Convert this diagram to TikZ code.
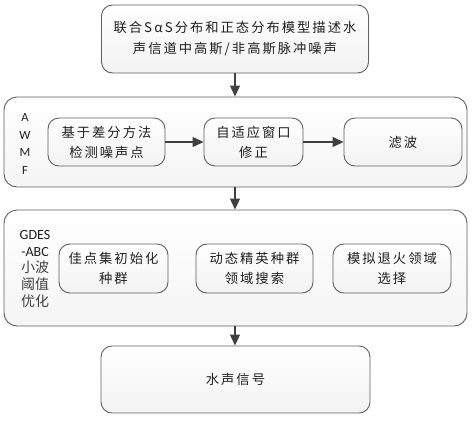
\documentclass[tikz,border=0pt]{standalone}
\usepackage{fontspec}
\setmainfont{Carlito}
\newfontfamily\cjk[LetterSpace=15]{Noto Sans CJK SC}
\newfontfamily\cjkplain{Noto Sans CJK SC}
\usetikzlibrary{arrows.meta}
\definecolor{edge}{RGB}{95,95,95}
\definecolor{ink}{RGB}{30,30,30}
\begin{document}
\begin{tikzpicture}[x=1bp,y=-1bp,
  box/.style={draw=edge, line width=0.9bp, rounded corners=11bp, top color=white, bottom color=gray!10,
     text=ink, align=center, inner sep=0pt, font=\fontsize{13.3bp}{20bp}\selectfont\cjk},
  outer/.style={box, rounded corners=13bp, top color=white, bottom color=gray!8},
  arr/.style={draw=ink!85, line width=1.1bp, -{Triangle[length=11bp,width=10bp]}},
  side/.style={text=ink, inner sep=0pt, font=\fontsize{12.5bp}{17.5bp}\selectfont, align=center}]
\useasboundingbox (0,0) rectangle (474,421);
\node[box, minimum width=267bp, minimum height=68bp, font=\fontsize{13.3bp}{21bp}\selectfont\cjk] (top) at (235,39)
  {联合S\,α\,S分布和正态分布模型描述水\\声信道中高斯/非高斯脉冲噪声};
\node[outer, minimum width=463bp, minimum height=90bp] (awmf) at (235.5,142) {};
\node[box, minimum width=117bp, minimum height=48bp] (a1) at (106.5,142) {基于差分方法\\检测噪声点};
\node[box, minimum width=99bp, minimum height=48bp] (a2) at (253.5,142) {自适应窗口\\修正};
\node[box, minimum width=118bp, minimum height=48bp] (a3) at (403,142) {滤波};
\node[side, font=\fontsize{12.5bp}{17.7bp}\selectfont] (lab1) at (25,144) {A\\W\\M\\F};
\node[outer, minimum width=463bp, minimum height=116bp] (gdes) at (235.5,268) {};
\node[box, minimum width=109bp, minimum height=49bp] (g1) at (113.5,268.5) {佳点集初始化\\种群};
\node[box, minimum width=117bp, minimum height=49bp] (g2) at (254.5,268.5) {动态精英种群\\领域搜索};
\node[box, minimum width=118bp, minimum height=49bp] (g3) at (392,268.5) {模拟退火领域\\选择};
\node[side, font=\fontsize{14bp}{16.8bp}\selectfont] (lab2) at (35,269)
  {GDES\\-ABC\\{\cjkplain\color{ink!85}小波}\\{\cjkplain\color{ink!85}阈值}\\{\cjkplain\color{ink!85}优化}};
\node[box, minimum width=269bp, minimum height=67bp] (bot) at (235.5,379.5) {水声信号};
\draw[arr] (top.south) -- (awmf.north -| top.south);
\draw[arr] (a1) -- (a2);
\draw[arr] (a2) -- (a3);
\draw[arr] (awmf.south -| top.south) -- (gdes.north -| top.south);
\draw[arr] (gdes.south -| top.south) -- (bot.north -| top.south);
\end{tikzpicture}
\end{document}
